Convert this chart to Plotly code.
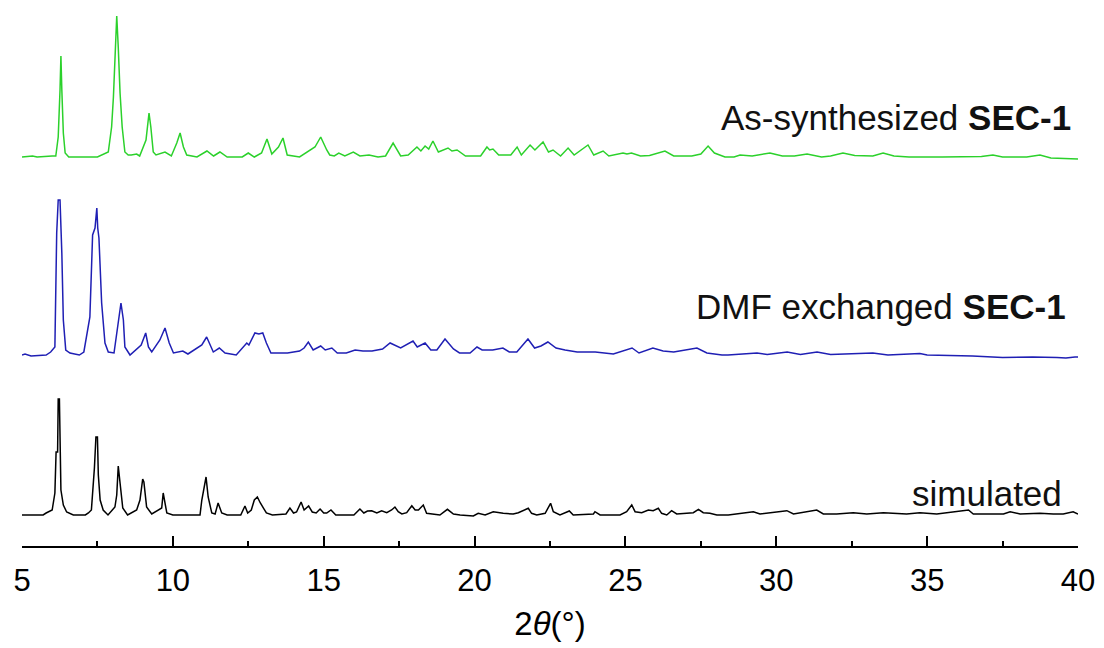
import plotly.graph_objects as go

# Powder XRD patterns: (2theta in degrees, intensity in a.u. above each pattern's baseline)
AS_SYNTHESIZED = [
    (5.0, 0), (5.35, 1), (5.5, 0), (5.8, 1), (6.0, 1), (6.12, 1), (6.20, 20), (6.26, 67), (6.29, 101),
    (6.32, 67), (6.37, 24), (6.43, 4), (6.55, 0), (7.0, 0), (7.5, 0), (7.86, 5), (7.97, 30), (8.03, 60),
    (8.08, 107), (8.14, 141), (8.19, 110), (8.25, 64), (8.32, 30), (8.41, 5), (8.52, 2), (8.62, 2),
    (8.80, 3), (8.90, 1), (9.11, 17), (9.21, 44), (9.27, 30), (9.35, 5), (9.44, 2), (9.74, 5), (9.95, 1),
    (10.13, 14), (10.24, 24), (10.35, 10), (10.46, 2), (10.8, 0), (11.13, 6), (11.35, 1), (11.56, 5),
    (11.8, 0), (12.3, 0), (12.5, 4), (12.7, 0), (12.94, 4), (13.12, 18), (13.28, 3), (13.5, 10),
    (13.65, 19), (13.79, 2), (14.2, 0), (14.71, 10), (14.9, 20), (15.1, 7), (15.2, 2), (15.35, 1),
    (15.5, 4), (15.7, 1), (15.98, 5), (16.2, 1), (16.5, 2), (16.8, 0), (17.05, 1), (17.3, 14),
    (17.55, 1), (17.8, 2), (18.09, 10), (18.22, 6), (18.36, 11), (18.48, 8), (18.62, 16), (18.8, 5),
    (19.12, 9), (19.25, 6), (19.42, 7), (19.7, 1), (20.2, 1), (20.41, 10), (20.5, 7), (20.61, 8),
    (20.8, 2), (21.2, 2), (21.41, 10), (21.55, 2), (21.84, 12), (22.0, 7), (22.27, 15), (22.45, 5),
    (22.6, 7), (22.85, 1), (23.1, 9), (23.3, 2), (23.76, 12), (23.95, 2), (24.1, 4), (24.26, 6),
    (24.45, 1), (24.92, 4), (25.05, 3), (25.2, 4), (25.5, 1), (25.8, 1.5), (26.31, 6), (26.6, 1),
    (27.2, 1), (27.5, 3), (27.74, 11), (27.95, 4), (28.3, 0), (28.6, 0), (28.8, 2), (29.2, 1),
    (29.79, 4), (30.2, 1), (30.6, 1), (31.02, 3), (31.5, 0), (31.8, 1), (32.21, 4), (32.6, 1.5),
    (33.2, 1), (33.54, 4), (33.9, 1), (34.4, 0), (35.5, 0), (36.2, 0), (36.8, 0.5), (37.18, 2),
    (37.5, 0), (38.3, 0), (38.74, 2), (39.1, -1), (40.0, -2),
]

DMF_EXCHANGED = [
    (5.0, 0), (5.1, 1), (5.3, -1), (5.8, 0), (5.95, 3), (6.09, 8), (6.15, 122), (6.20, 155),
    (6.26, 155), (6.32, 102), (6.37, 35), (6.45, 5), (6.59, 2), (6.9, 0), (7.05, 3), (7.25, 38),
    (7.34, 120), (7.42, 127), (7.48, 147), (7.51, 127), (7.55, 117), (7.64, 52), (7.75, 12),
    (7.86, 3), (8.05, 2), (8.19, 32), (8.28, 52), (8.36, 35), (8.41, 8), (8.58, 0), (8.85, 8),
    (8.95, 10), (9.1, 22), (9.19, 8), (9.30, 3), (9.57, 15), (9.74, 27), (9.88, 12), (10.02, 2),
    (10.33, 4), (10.5, 1), (10.96, 10), (11.12, 18), (11.34, 3), (11.54, 7), (11.73, 2), (12.1, 0),
    (12.35, 8), (12.45, 12), (12.52, 10), (12.6, 15), (12.72, 22), (12.85, 21), (12.98, 22),
    (13.1, 12), (13.25, 2), (13.8, 2), (14.2, 4), (14.35, 7), (14.49, 13), (14.65, 5), (14.9, 9),
    (15.05, 5), (15.27, 7), (15.45, 2), (15.75, 2), (16.04, 5), (16.3, 4), (16.6, 4), (16.95, 6),
    (17.2, 12), (17.4, 9), (17.55, 7), (17.96, 14), (18.1, 8), (18.36, 12), (18.55, 5), (18.75, 5),
    (19.02, 16), (19.3, 6), (19.5, 2), (19.85, 2), (20.08, 8), (20.25, 5), (20.6, 5), (20.94, 7),
    (21.15, 3), (21.4, 3), (21.77, 16), (21.99, 7), (22.2, 9), (22.43, 13), (22.7, 7), (23.0, 5),
    (23.4, 3), (24.0, 3), (24.6, 1), (25.22, 7), (25.45, 2), (25.91, 7), (26.25, 4), (26.6, 3),
    (27.37, 7), (27.7, 2), (28.2, 0), (28.4, 0), (29.36, 2), (29.7, 0.5), (30.36, 3), (30.8, 0.5),
    (31.35, 3), (31.8, 0.5), (32.5, 1), (33.2, 2), (33.7, 0), (34.76, 1.5), (35.0, 0), (36.5, -1),
    (37.5, -2.5), (38.5, -2), (39.3, -2.5), (39.6, -3), (39.9, -2), (40.0, -2),
]

SIMULATED = [
    (5.0, 0), (5.7, 0), (5.8, 2), (6.0, 5), (6.09, 22), (6.13, 63), (6.18, 63), (6.2, 116),
    (6.24, 116), (6.26, 63), (6.29, 25), (6.37, 10), (6.48, 3), (6.7, 0), (7.1, 0), (7.2, 2),
    (7.3, 5), (7.40, 47), (7.45, 78), (7.5, 78), (7.53, 40), (7.59, 15), (7.69, 5), (7.85, 0),
    (8.08, 8), (8.14, 20), (8.19, 49), (8.25, 32), (8.34, 7), (8.5, 0), (8.8, 5), (8.91, 15),
    (9.0, 36), (9.04, 33), (9.13, 8), (9.3, 1), (9.63, 7), (9.68, 22), (9.74, 12), (9.8, 2),
    (10.0, 0), (10.9, 0), (10.96, 15), (11.1, 38), (11.17, 18), (11.29, 2), (11.4, 1), (11.5, 12),
    (11.62, 2), (11.8, 0), (12.25, 0), (12.39, 9), (12.48, 2), (12.6, 5), (12.7, 15), (12.8, 18),
    (12.9, 12), (13.0, 7), (13.1, 2), (13.3, 0), (13.75, 1), (13.88, 7), (14.0, 2), (14.1, 3),
    (14.25, 13), (14.35, 5), (14.5, 9), (14.62, 3), (14.75, 2), (14.88, 6), (15.0, 2), (15.1, 2),
    (15.24, 5), (15.4, 0), (16.0, 0), (16.2, 6), (16.33, 2), (16.45, 4), (16.59, 4.3), (16.76, 2),
    (16.92, 4.3), (17.09, 2.3), (17.25, 5), (17.36, 8), (17.47, 3.3), (17.59, 1), (17.75, 2.3),
    (17.92, 9.3), (18.03, 5), (18.14, 5), (18.30, 10), (18.41, 1.7), (18.85, 0), (19.10, 5.7),
    (19.3, 1), (19.52, 0), (19.96, -1), (20.12, 1.7), (20.35, 0), (20.62, 3.3), (20.95, 1.7),
    (21.28, 1), (21.45, 2.3), (21.78, 6.7), (21.89, 1.7), (22.06, 0), (22.34, 1.7), (22.52, 11.7),
    (22.61, 3.3), (22.83, 0), (23.14, 4), (23.27, 0), (23.94, 1), (23.99, 3.3), (24.16, 0),
    (24.82, 0), (25.04, 3.3), (25.21, 10), (25.32, 3.3), (25.54, 2.3), (25.76, 5), (25.92, 4.3),
    (26.09, 6.7), (26.2, 1.7), (26.37, 0), (26.53, 4.3), (26.7, 1), (27.03, 1.7), (27.25, 2.3),
    (27.42, 5.7), (27.58, 2.3), (27.8, 1.7), (28.03, 0), (28.41, 0), (29.24, 3.3), (29.46, 1),
    (29.9, 2.3), (30.35, 4.3), (30.57, 1), (31.34, 5), (31.56, 1), (32.0, 1), (32.55, 2.3),
    (33.0, 1), (33.55, 2.3), (34.32, 1), (34.76, 2.3), (35.32, 1), (36.37, 5), (36.53, 1),
    (37.53, 1), (37.75, 3.3), (38.08, 1), (38.74, 1.7), (39.18, 1), (39.51, 1), (39.84, 3.3),
    (40.0, 1),
]

LABELS = ["As-synthesized <b>SEC-1</b>", "DMF exchanged <b>SEC-1</b>", "simulated"]
COLORS = ["#2bd12b", "#1f1fb4", "#000000"]
OFFSETS = [358, 160, 0]          # vertical stacking of the patterns
BASE = 31                        # lowest baseline above the axis line
LABEL_X = [39.82, 39.68, 39.55]
LABEL_DY = [40, 49, 22]          # label height above each baseline

X_MAJOR = 5
X_MINOR = 2.5

AXIS_FONT = "Liberation Sans Narrow, Arial Narrow, Liberation Sans, Arial, sans-serif"

fig = go.Figure()
for pattern, color, off in zip([AS_SYNTHESIZED, DMF_EXCHANGED, SIMULATED], COLORS, OFFSETS):
    xs = [p[0] for p in pattern]
    ys = [p[1] + off + BASE for p in pattern]
    fig.add_trace(go.Scatter(x=xs, y=ys, mode="lines",
                             line=dict(color=color, width=1.5), showlegend=False,
                             hoverinfo="skip"))

for text, lx, off, dy in zip(LABELS, LABEL_X, OFFSETS, LABEL_DY):
    fig.add_annotation(x=lx, y=off + BASE + dy, text=text, showarrow=False,
                       xanchor="right", yanchor="middle",
                       font=dict(family="Liberation Sans, Arial, sans-serif", size=35, color="#111"))

fig.update_layout(
    width=1104, height=648,
    margin=dict(l=22, r=26, t=10, b=102),
    paper_bgcolor="white", plot_bgcolor="white",
    xaxis=dict(
        range=[5, 40], tick0=5, dtick=X_MAJOR, ticks="inside", ticklen=10, tickwidth=1.5,
        tickcolor="black", showline=True, linecolor="black", linewidth=2,
        showgrid=False, zeroline=False, ticklabelstandoff=6,
        minor=dict(ticks="inside", ticklen=5, tickwidth=1.5, tickcolor="black",
                   tick0=5, dtick=X_MINOR, showgrid=False),
        tickfont=dict(family=AXIS_FONT, size=31, color="black"),
        title=dict(text="2<i>θ</i>(°)", standoff=15,
                   font=dict(family=AXIS_FONT, size=33, color="black")),
    ),
    yaxis=dict(range=[0, 536], visible=False, showgrid=False, zeroline=False),
)

fig.write_html("out.html")
